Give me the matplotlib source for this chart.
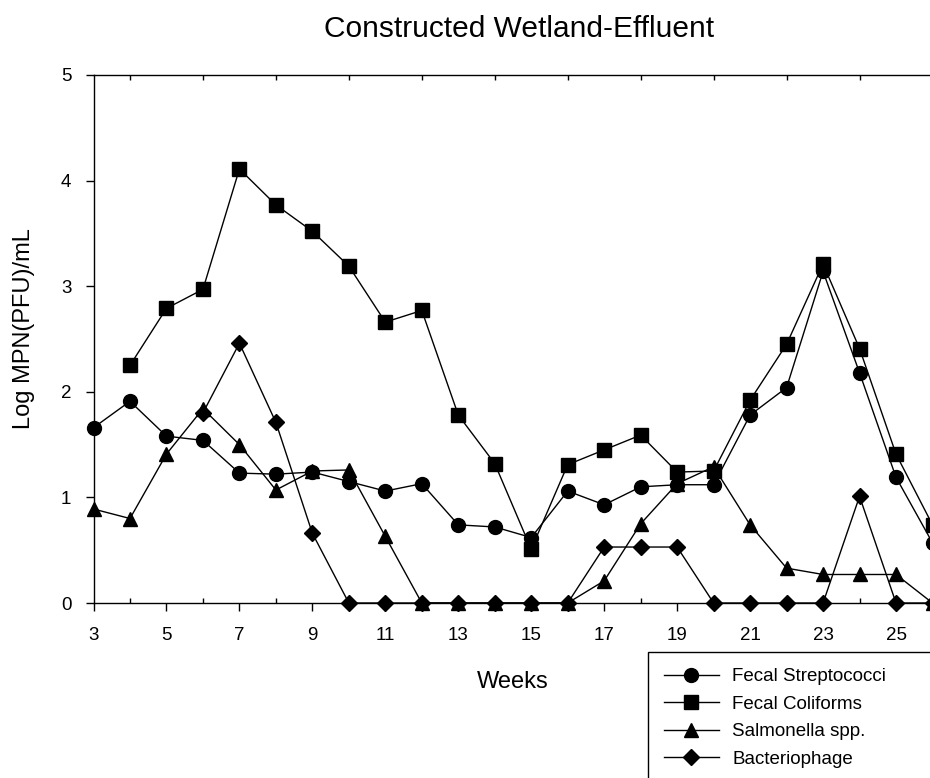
import numpy as np
import matplotlib
matplotlib.use("Agg")
import matplotlib.pyplot as plt
from matplotlib.ticker import FixedLocator

plt.rcParams['font.family'] = ['Liberation Sans', 'DejaVu Sans']

# weeks 3..26, nan = no sample plotted
weeks = list(range(3, 27))
fecal_strep = [1.66, 1.91, 1.58, 1.54, 1.23, 1.22, 1.24, 1.15, 1.06, 1.13, 0.74, 0.72,
               0.62, 1.06, 0.93, 1.10, 1.12, 1.12, 1.78, 2.04, 3.14, 2.18, 1.19, 0.57]
fecal_coli = [np.nan, 2.25, 2.79, 2.97, 4.11, 3.77, 3.52, 3.19, 2.66, 2.77, 1.78, 1.32,
              0.51, 1.31, 1.45, 1.59, 1.24, 1.25, 1.92, 2.45, 3.21, 2.41, 1.41, 0.74]
salmonella = [0.89, 0.80, 1.41, 1.84, 1.50, 1.07, 1.25, 1.26, 0.63, 0, 0, 0,
              0, 0, 0.21, 0.75, 1.13, 1.29, 0.74, 0.33, 0.27, 0.27, 0.27, 0]
phage = [np.nan, np.nan, np.nan, 1.80, 2.46, 1.71, 0.66, 0, 0, 0, 0, 0,
         0, 0, 0.53, 0.53, 0.53, 0, 0, 0, 0, 1.01, 0, 0]

labels = ["Fecal Streptococci", "Fecal Coliforms", "Salmonella spp.", "Bacteriophage"]
odd_weeks = list(range(3, 26, 2))
even_weeks = list(range(4, 27, 2))

W, H = 930, 778
fig = plt.figure(figsize=(W / 100, H / 100), dpi=100)
ax = fig.add_axes([93.5 / W, 175 / H, 839 / W, 528 / H])

series = [(fecal_strep, 'o', 10), (fecal_coli, 's', 9.5),
          (salmonella, '^', 10), (phage, 'D', 8.3)]
for (vals, mk, ms), lab in zip(series, labels):
    ax.plot(weeks, vals, color='black', lw=1.0, marker=mk, markersize=ms,
            markerfacecolor='black', markeredgecolor='black', label=lab, clip_on=False)

ax.set_xlim(3, 26)
ax.set_ylim(0, 5)
ax.xaxis.set_major_locator(FixedLocator(odd_weeks))
ax.xaxis.set_minor_locator(FixedLocator(even_weeks))
ax.set_yticks(range(0, 6))

for sp in ax.spines.values():
    sp.set_linewidth(1.0)

ax.tick_params(axis='x', which='major', direction='out', length=6, width=1,
               pad=11, labelsize=13.5, top=False, bottom=True)
ax.tick_params(axis='x', which='minor', direction='in', length=3.6, width=1,
               top=True, bottom=True)
ax.tick_params(axis='y', which='major', direction='out', length=6, width=1,
               pad=10, labelsize=13.5, right=False)

ax.set_xlabel("Weeks", fontsize=17, va='baseline')
ax.xaxis.set_label_coords(0.5, (603 - 688) / 528)
ax.set_ylabel("Log MPN(PFU)/mL", fontsize=17, va='baseline', ha='center',
              rotation_mode='anchor')
ax.yaxis.set_label_coords((30 - 93.5) / 839, 0.52)

fig.text(519 / W, 1 - 37 / H, "Constructed Wetland-Effluent", fontsize=21.5,
         ha='center', va='baseline')

leg = ax.legend(loc='upper left', bbox_to_anchor=(648 / W, 1 - 652 / H, 300 / W, 0),
                bbox_transform=fig.transFigure, mode='expand', borderaxespad=0,
                fontsize=13.5, handlelength=2.93, handletextpad=0.7,
                borderpad=0.85, labelspacing=0.56, fancybox=False,
                framealpha=1, numpoints=1)
leg.get_frame().set_edgecolor('black')
leg.get_frame().set_linewidth(1.0)

fig.savefig("out.png", dpi=100)
